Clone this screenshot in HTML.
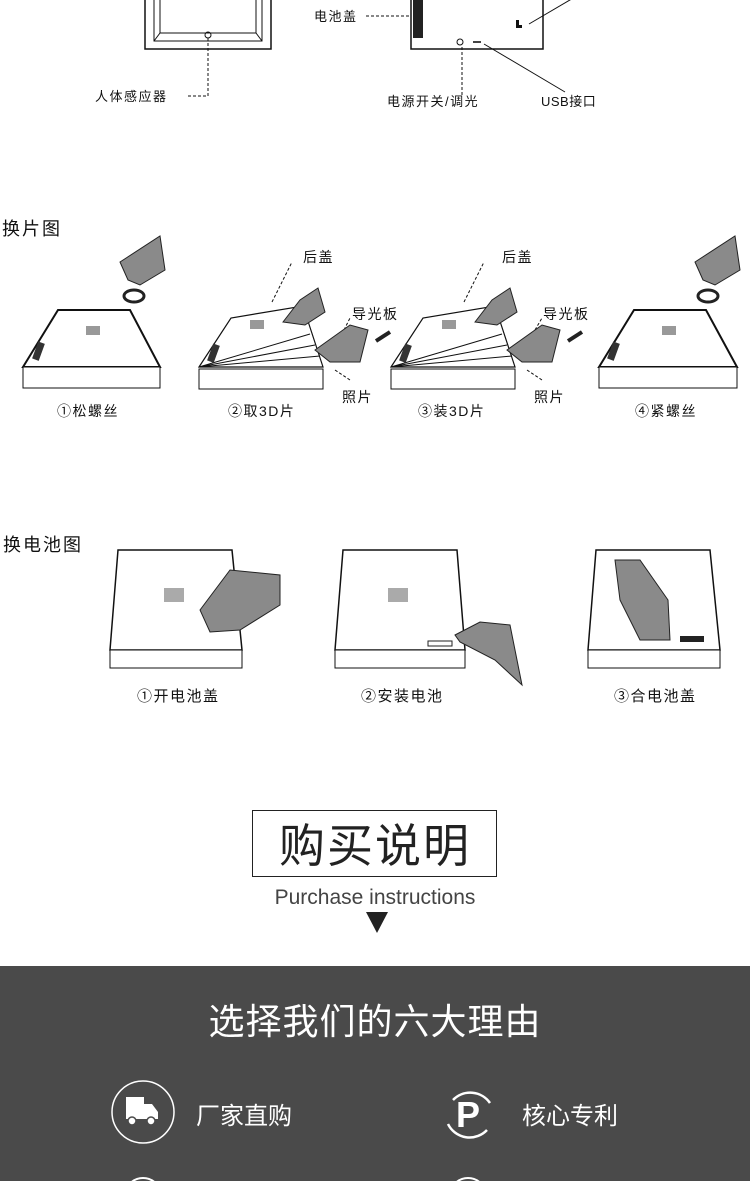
<!DOCTYPE html>
<html><head><meta charset="utf-8"><style>
body{margin:0;width:750px;height:1181px;overflow:hidden;background:#fff;font-family:"Liberation Sans","Noto Sans CJK SC",sans-serif}
svg{display:block}
</style></head><body>
<svg width="750" height="1181" viewBox="0 0 750 1181" xmlns="http://www.w3.org/2000/svg" font-family="Liberation Sans, Noto Sans CJK SC, sans-serif">
<g fill="none" stroke="#111">
<rect x="145" y="-5" width="126" height="54" stroke-width="1.5"/>
<rect x="154" y="-5" width="108" height="46"/>
<rect x="160" y="-5" width="96" height="38"/>
<line x1="154" y1="41" x2="160" y2="33"/><line x1="262" y1="41" x2="256" y2="33"/>
<circle cx="208" cy="35" r="3"/>
<path d="M208 38 V96 H186" stroke-dasharray="3,2"/>
<rect x="411" y="-5" width="132" height="54" stroke-width="1.5"/>
<path d="M366 16 H409" stroke-dasharray="3,2"/>
<path d="M462 47 V95" stroke-dasharray="3,2"/>
<path d="M484 44 L565 92"/>
<path d="M529 24 L575 -3"/>
</g>
<rect x="413" y="0" width="10" height="38" fill="#222"/>
<circle cx="460" cy="42" r="3" fill="none" stroke="#111"/>
<rect x="473" y="41" width="8" height="2" fill="#444"/>
<path d="M516 20 v8 h6 v-3 h-3 v-5z" fill="#111"/>
<g font-size="13" fill="#111" letter-spacing="1.5">
<text x="95" y="101">人体感应器</text>
<text x="314" y="21">电池盖</text>
<text x="387" y="106">电源开关/调光</text>
<text x="541" y="106" letter-spacing="0.5">USB接口</text>
</g>

<text x="2" y="235" font-size="18" fill="#111" letter-spacing="2">换片图</text>
<g fill="none" stroke="#111">
<path d="M23 367 L58 310 L130 310 L160 367Z" stroke-width="2" fill="#fff"/>
<rect x="23" y="367" width="137" height="21" fill="#fff"/>
<path d="M199 367 L231 318 L303 306 L323 367Z" stroke-width="1.2" fill="#fff"/>
<path d="M199 367 L310 334 M199 367 L315 345 M199 367 L320 356"/>
<rect x="199" y="369" width="124" height="20" fill="#fff"/>
<path d="M391 367 L423 318 L495 306 L515 367Z" stroke-width="1.2" fill="#fff"/>
<path d="M391 367 L502 334 M391 367 L507 345 M391 367 L512 356"/>
<rect x="391" y="369" width="124" height="20" fill="#fff"/>
<path d="M599 367 L634 310 L706 310 L737 367Z" stroke-width="2" fill="#fff"/>
<rect x="599" y="367" width="138" height="21" fill="#fff"/>
<g stroke-dasharray="3,2">
<path d="M272 302 L292 262 M344 330 L350 318 M335 370 L350 380"/>
<path d="M464 302 L484 262 M535 330 L542 318 M527 370 L542 380"/>
</g>
</g>
<g fill="#999">
<rect x="86" y="326" width="14" height="9"/><rect x="250" y="320" width="14" height="9"/>
<rect x="442" y="320" width="14" height="9"/><rect x="662" y="326" width="14" height="9"/>
</g>
<g fill="#333"><rect x="35" y="342" width="7" height="18" transform="rotate(20 38 351)"/>
<rect x="210" y="344" width="7" height="18" transform="rotate(20 213 353)"/>
<rect x="402" y="344" width="7" height="18" transform="rotate(20 405 353)"/>
<rect x="610" y="342" width="7" height="18" transform="rotate(20 613 351)"/></g>
<g fill="#8a8a8a" stroke="#222">
<path d="M120 262 L160 236 L165 270 L140 285 L128 280Z"/>
<path d="M695 262 L735 236 L740 270 L715 285 L703 280Z"/>
<path d="M283 322 L300 300 L318 288 L325 312 L305 325Z"/>
<path d="M315 350 L350 325 L368 330 L360 362 L330 362Z"/>
<path d="M475 322 L492 300 L510 288 L517 312 L497 325Z"/>
<path d="M507 350 L542 325 L560 330 L552 362 L522 362Z"/>
</g>
<g fill="none" stroke="#222" stroke-width="3"><ellipse cx="134" cy="296" rx="10" ry="6"/><ellipse cx="708" cy="296" rx="10" ry="6"/></g>
<g stroke="#222" stroke-width="4"><line x1="376" y1="341" x2="390" y2="332"/><line x1="582" y1="332" x2="568" y2="341"/></g>
<g font-size="14" fill="#111" letter-spacing="1.5">
<text x="303" y="262">后盖</text><text x="352" y="319">导光板</text><text x="342" y="402">照片</text>
<text x="502" y="262">后盖</text><text x="543" y="319">导光板</text><text x="534" y="402">照片</text>
<text x="57" y="416">①松螺丝</text><text x="228" y="416">②取3D片</text>
<text x="418" y="416">③装3D片</text><text x="635" y="416">④紧螺丝</text>
</g>

<text x="3" y="551" font-size="18" fill="#111" letter-spacing="2">换电池图</text>
<g fill="#fff" stroke="#111">
<path d="M118 550 L232 550 L242 650 L110 650Z" stroke-width="1.5"/>
<rect x="110" y="650" width="132" height="18"/>
<path d="M343 550 L457 550 L465 650 L335 650Z" stroke-width="1.5"/>
<rect x="335" y="650" width="130" height="18"/>
<path d="M596 550 L710 550 L720 650 L588 650Z" stroke-width="1.5"/>
<rect x="588" y="650" width="132" height="18"/>
</g>
<g fill="#aaa"><rect x="164" y="588" width="20" height="14"/><rect x="388" y="588" width="20" height="14"/></g>
<g fill="#8a8a8a" stroke="#222">
<path d="M200 610 L230 570 L280 575 L280 605 L240 630 L210 632Z"/>
<path d="M455 635 L480 622 L510 625 L522 685 L495 660 L460 642Z"/>
<path d="M615 560 L640 560 L668 600 L670 640 L640 640 L620 600Z"/>
</g>
<rect x="680" y="636" width="24" height="6" fill="#222"/>
<rect x="428" y="641" width="24" height="5" fill="#fff" stroke="#222"/>
<g font-size="15" fill="#111" letter-spacing="1.5">
<text x="137" y="701">①开电池盖</text><text x="361" y="701">②安装电池</text><text x="614" y="701">③合电池盖</text>
</g>

<rect x="252.5" y="810.5" width="244" height="66" fill="none" stroke="#222"/>
<text x="375" y="862" font-size="46" text-anchor="middle" fill="#222" letter-spacing="2">购买说明</text>
<text x="375" y="904" font-size="21" text-anchor="middle" fill="#444">Purchase instructions</text>
<path d="M366 912 L388 912 L377 933Z" fill="#222"/>

<rect x="0" y="966" width="750" height="215" fill="#4a4a4a"/>
<text x="375" y="1034" font-size="36" text-anchor="middle" fill="#fff" letter-spacing="1">选择我们的六大理由</text>
<circle cx="143" cy="1112" r="31" fill="none" stroke="#fff" stroke-width="1.5"/>
<path d="M126 1097 h18 v22 h-18z M144 1104 h8 l6 8 v7 h-14z" fill="#fff"/>
<circle cx="132" cy="1121" r="4" fill="#fff" stroke="#4a4a4a" stroke-width="1.5"/>
<circle cx="151" cy="1121" r="4" fill="#fff" stroke="#4a4a4a" stroke-width="1.5"/>
<text x="196" y="1124" font-size="24" fill="#fff">厂家直购</text>
<path d="M453 1100 A24 24 0 0 1 490 1103 M487 1130 A24 24 0 0 1 448 1124" fill="none" stroke="#fff" stroke-width="2.5"/>
<text x="468" y="1127" font-size="36" font-weight="bold" text-anchor="middle" fill="#fff">P</text>
<text x="522" y="1124" font-size="24" fill="#fff">核心专利</text>
<circle cx="143" cy="1196" r="18" fill="none" stroke="#fff" stroke-width="2"/>
<circle cx="468" cy="1196" r="18" fill="none" stroke="#fff" stroke-width="2"/>
</svg>
</body></html>
